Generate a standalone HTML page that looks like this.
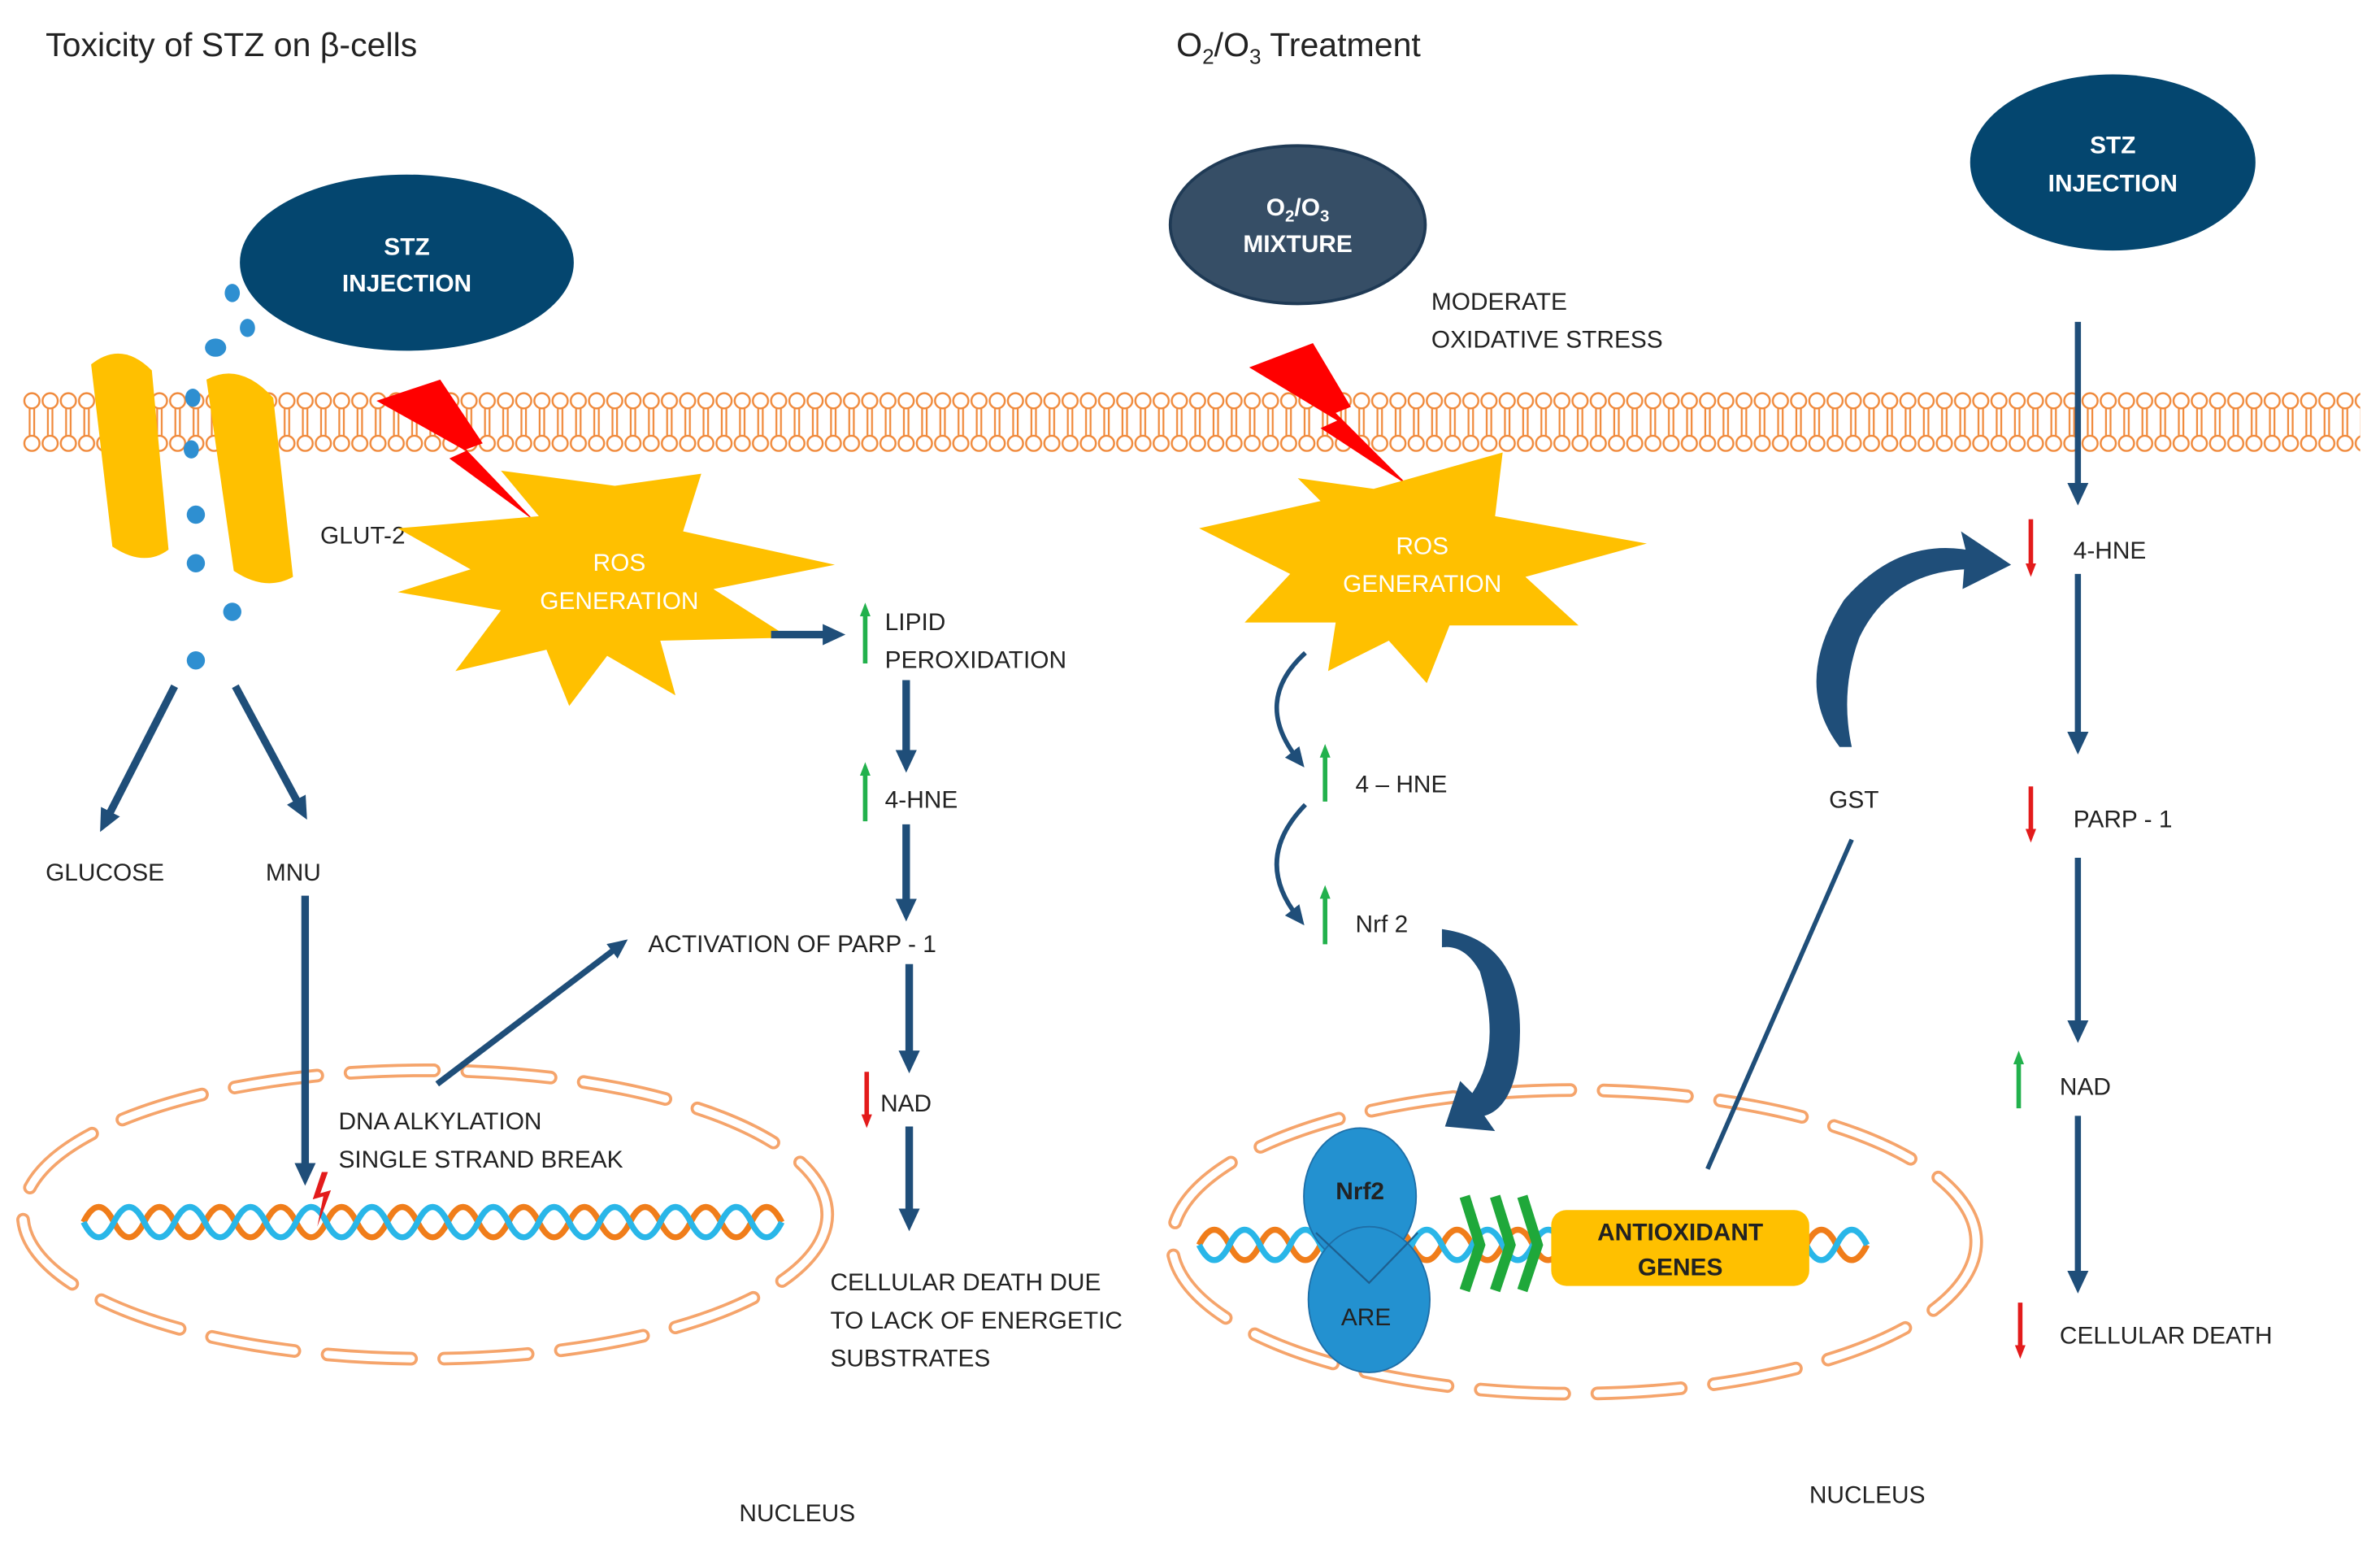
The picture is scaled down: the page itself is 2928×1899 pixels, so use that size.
<!DOCTYPE html>
<html><head><meta charset="utf-8"><style>
html,body{margin:0;padding:0;background:#fff}
svg{display:block}
text{font-family:"Liberation Sans",sans-serif;fill:#222}
</style></head><body>
<svg width="2928" height="1899" viewBox="0 0 1568 1017" xmlns="http://www.w3.org/2000/svg">
<defs>
<pattern id="lip" x="15" y="0" width="12" height="1017" patternUnits="userSpaceOnUse">
<line x1="4.5" y1="269" x2="4.5" y2="288" stroke="#f08a3c" stroke-width="1.2"/>
<line x1="7.5" y1="269" x2="7.5" y2="288" stroke="#f08a3c" stroke-width="1.2"/>
<circle cx="6" cy="264" r="5" fill="#fff" stroke="#f08a3c" stroke-width="1.3"/>
<circle cx="6" cy="292" r="5" fill="#fff" stroke="#f08a3c" stroke-width="1.3"/>
</pattern>
<marker id="ah" markerUnits="userSpaceOnUse" markerWidth="16" markerHeight="16" refX="6" refY="8" orient="auto"><path d="M0,1 L15,8 L0,15z" fill="#1f4e79"/></marker>
<marker id="sm" markerUnits="userSpaceOnUse" markerWidth="14" markerHeight="14" refX="6" refY="7" orient="auto"><path d="M0,1 L13,7 L0,13z" fill="#1f4e79"/></marker>
<marker id="gr" markerUnits="userSpaceOnUse" markerWidth="10" markerHeight="10" refX="4" refY="5" orient="auto"><path d="M0,1.5 L9,5 L0,8.5z" fill="#22b14c"/></marker>
<marker id="rd" markerUnits="userSpaceOnUse" markerWidth="10" markerHeight="10" refX="4" refY="5" orient="auto"><path d="M0,1.5 L9,5 L0,8.5z" fill="#e31b1b"/></marker>
</defs>

<text x="30" y="37" font-size="22">Toxicity  of STZ on β-cells</text>
<text x="775" y="37" font-size="22">O<tspan font-size="14" dy="5">2</tspan><tspan dy="-5">/O</tspan><tspan font-size="14" dy="5">3</tspan><tspan dy="-5"> Treatment</tspan></text>

<rect x="15" y="255" width="1540" height="45" fill="url(#lip)"/>

<g fill="none" stroke-linecap="round">
<ellipse cx="280" cy="800" rx="265" ry="95" stroke="#f5a46b" stroke-width="9" stroke-dasharray="55 22"/>
<ellipse cx="280" cy="800" rx="265" ry="95" stroke="#fff" stroke-width="5" stroke-dasharray="55 22"/>
<ellipse cx="1037" cy="818" rx="265" ry="100" stroke="#f5a46b" stroke-width="9" stroke-dasharray="55 22"/>
<ellipse cx="1037" cy="818" rx="265" ry="100" stroke="#fff" stroke-width="5" stroke-dasharray="55 22"/>
</g>

<g fill="none" stroke-width="4">
<path d="M55,805 q10,-20 20,0 t20,0 t20,0 t20,0 t20,0 t20,0 t20,0 t20,0 t20,0 t20,0 t20,0 t20,0 t20,0 t20,0 t20,0 t20,0 t20,0 t20,0 t20,0 t20,0 t20,0 t20,0 t20,0" stroke="#f07d1a"/>
<path d="M55,805 q10,20 20,0 t20,0 t20,0 t20,0 t20,0 t20,0 t20,0 t20,0 t20,0 t20,0 t20,0 t20,0 t20,0 t20,0 t20,0 t20,0 t20,0 t20,0 t20,0 t20,0 t20,0 t20,0 t20,0" stroke="#29b6e8"/>
<path d="M790,820 q10,-20 20,0 t20,0 t20,0 t20,0 t20,0 t20,0 t20,0 t20,0 t20,0 t20,0 t20,0 t20,0 t20,0 t20,0 t20,0 t20,0 t20,0 t20,0 t20,0 t20,0 t20,0 t20,0" stroke="#f07d1a"/>
<path d="M790,820 q10,20 20,0 t20,0 t20,0 t20,0 t20,0 t20,0 t20,0 t20,0 t20,0 t20,0 t20,0 t20,0 t20,0 t20,0 t20,0 t20,0 t20,0 t20,0 t20,0 t20,0 t20,0 t20,0" stroke="#29b6e8"/>
</g>
<path d="M212,772 l-6,18 7,-2 -4,20 9,-24 -7,2 5,-14z" fill="#e31b1b"/>

<path d="M60,240 Q80,224 100,244 L111,362 Q95,374 74,360 Z" fill="#ffc000"/>
<path d="M136,250 Q158,238 180,262 L193,380 Q175,390 154,376 Z" fill="#ffc000"/>
<g fill="#2e8fd1">
<ellipse cx="153" cy="193" rx="5" ry="6"/><ellipse cx="163" cy="216" rx="5" ry="6"/>
<ellipse cx="142" cy="229" rx="7" ry="6"/><ellipse cx="127" cy="262" rx="5" ry="6"/>
<ellipse cx="126" cy="296" rx="5" ry="6"/><ellipse cx="129" cy="339" rx="6" ry="6"/>
<ellipse cx="129" cy="371" rx="6" ry="6"/><ellipse cx="153" cy="403" rx="6" ry="6"/>
<ellipse cx="129" cy="435" rx="6" ry="6"/>
</g>
<text x="211" y="358" font-size="16">GLUT-2</text>

<ellipse cx="268" cy="173" rx="110" ry="58" fill="#04466f"/>
<text x="268" y="168" font-size="16" font-weight="bold" style="fill:#fff" text-anchor="middle">STZ</text>
<text x="268" y="192" font-size="16" font-weight="bold" style="fill:#fff" text-anchor="middle">INJECTION</text>

<path d="M248,264 L290,250 L318,292 L307,296 L352,343 L296,302 L307,297 Z" fill="#ff0000"/>
<path d="M823,242 L865,226 L890,268 L880,272 L928,320 L870,282 L881,277 Z" fill="#ff0000"/>

<path d="M262,348 L355,340 L330,310 L405,320 L462,312 L450,350 L550,372 L470,388 L520,420 L435,422 L445,458 L400,432 L375,465 L360,428 L300,442 L330,402 L262,390 L310,375 Z" fill="#ffc000"/>
<text x="408" y="376" font-size="16" style="fill:#fff" text-anchor="middle">ROS</text>
<text x="408" y="401" font-size="16" style="fill:#fff" text-anchor="middle">GENERATION</text>
<path d="M790,348 L870,330 L855,315 L905,322 L990,298 L985,340 L1085,358 L1005,380 L1040,412 L955,412 L940,450 L915,422 L875,442 L880,410 L820,410 L850,378 Z" fill="#ffc000"/>
<text x="937" y="365" font-size="16" style="fill:#fff" text-anchor="middle">ROS</text>
<text x="937" y="390" font-size="16" style="fill:#fff" text-anchor="middle">GENERATION</text>

<ellipse cx="855" cy="148" rx="84" ry="52" fill="#364e66" stroke="#1f3a55" stroke-width="2"/>
<text x="855" y="142" font-size="16" font-weight="bold" style="fill:#fff" text-anchor="middle">O<tspan font-size="11" dy="4">2</tspan><tspan dy="-4">/O</tspan><tspan font-size="11" dy="4">3</tspan></text>
<text x="855" y="166" font-size="16" font-weight="bold" style="fill:#fff" text-anchor="middle">MIXTURE</text>
<text x="943" y="204" font-size="16">MODERATE</text>
<text x="943" y="229" font-size="16">OXIDATIVE STRESS</text>

<ellipse cx="1392" cy="107" rx="94" ry="58" fill="#04466f"/>
<text x="1392" y="101" font-size="16" font-weight="bold" style="fill:#fff" text-anchor="middle">STZ</text>
<text x="1392" y="126" font-size="16" font-weight="bold" style="fill:#fff" text-anchor="middle">INJECTION</text>

<g stroke="#1f4e79" stroke-width="5" fill="none" marker-end="url(#ah)">
<line x1="115" y1="452" x2="70" y2="540"/>
<line x1="155" y1="452" x2="198" y2="532"/>
<line x1="201" y1="590" x2="201" y2="772"/>
<line x1="508" y1="418" x2="548" y2="418"/>
<line x1="597" y1="448" x2="597" y2="500"/>
<line x1="597" y1="543" x2="597" y2="598"/>
<line x1="599" y1="635" x2="599" y2="698"/>
<line x1="599" y1="742" x2="599" y2="802"/>
</g>
<line x1="288" y1="714" x2="408" y2="623" stroke="#1f4e79" stroke-width="4" marker-end="url(#sm)"/>

<g font-size="16">
<text x="30" y="580">GLUCOSE</text>
<text x="175" y="580">MNU</text>
<text x="583" y="415">LIPID</text>
<text x="583" y="440">PEROXIDATION</text>
<text x="583" y="532">4-HNE</text>
<text x="427" y="627">ACTIVATION OF PARP - 1</text>
<text x="580" y="732">NAD</text>
<text x="223" y="744">DNA ALKYLATION</text>
<text x="223" y="769">SINGLE STRAND BREAK</text>
<text x="547" y="850">CELLULAR DEATH DUE</text>
<text x="547" y="875">TO LACK OF ENERGETIC</text>
<text x="547" y="900">SUBSTRATES</text>
<text x="487" y="1002">NUCLEUS</text>
<text x="1192" y="990">NUCLEUS</text>
<text x="893" y="522">4 – HNE</text>
<text x="893" y="614">Nrf 2</text>
<text x="1205" y="532">GST</text>
<text x="1366" y="368">4-HNE</text>
<text x="1366" y="545">PARP - 1</text>
<text x="1357" y="721">NAD</text>
<text x="1357" y="885">CELLULAR DEATH</text>
</g>

<g stroke-width="3">
<line x1="570" y1="437" x2="570" y2="402" stroke="#22b14c" marker-end="url(#gr)"/>
<line x1="570" y1="541" x2="570" y2="507" stroke="#22b14c" marker-end="url(#gr)"/>
<line x1="571" y1="706" x2="571" y2="738" stroke="#e31b1b" marker-end="url(#rd)"/>
<line x1="873" y1="528" x2="873" y2="495" stroke="#22b14c" marker-end="url(#gr)"/>
<line x1="873" y1="622" x2="873" y2="588" stroke="#22b14c" marker-end="url(#gr)"/>
<line x1="1338" y1="342" x2="1338" y2="375" stroke="#e31b1b" marker-end="url(#rd)"/>
<line x1="1338" y1="518" x2="1338" y2="550" stroke="#e31b1b" marker-end="url(#rd)"/>
<line x1="1330" y1="730" x2="1330" y2="697" stroke="#22b14c" marker-end="url(#gr)"/>
<line x1="1331" y1="858" x2="1331" y2="890" stroke="#e31b1b" marker-end="url(#rd)"/>
</g>

<g stroke="#1f4e79" stroke-width="4" fill="none" marker-end="url(#ah)">
<line x1="1369" y1="212" x2="1369" y2="324"/>
<line x1="1369" y1="378" x2="1369" y2="488"/>
<line x1="1369" y1="565" x2="1369" y2="678"/>
<line x1="1369" y1="735" x2="1369" y2="843"/>
</g>
<g stroke="#1f4e79" stroke-width="3" fill="none" marker-end="url(#sm)">
<path d="M860,430 Q825,462 855,500"/>
<path d="M860,530 Q825,566 855,604"/>
</g>
<line x1="1125" y1="770" x2="1220" y2="553" stroke="#1f4e79" stroke-width="3"/>
<path d="M950,612 Q1010,620 1000,700 Q995,730 978,735 L985,745 L952,742 L962,712 L970,720 Q990,690 975,640 Q965,622 950,624 Z" fill="#1f4e79"/>
<path d="M1212,492 Q1180,450 1215,395 Q1250,355 1295,362 L1292,350 L1325,372 L1293,388 L1294,375 Q1245,378 1225,420 Q1212,455 1220,492 Z" fill="#1f4e79"/>

<ellipse cx="896" cy="788" rx="37" ry="45" fill="#2391d0" stroke="#1e6fa8" stroke-width="1"/>
<ellipse cx="902" cy="856" rx="40" ry="48" fill="#2391d0" stroke="#1e6fa8" stroke-width="1"/>
<path d="M867,812 L902,845 L934,812" fill="none" stroke="#1e5f8f" stroke-width="1.2"/>
<text x="896" y="790" font-size="16" font-weight="bold" text-anchor="middle">Nrf2</text>
<text x="900" y="873" font-size="16" text-anchor="middle">ARE</text>
<g fill="none" stroke="#1fa83a" stroke-width="7">
<path d="M965,788 L975,820 L965,850"/>
<path d="M985,788 L995,820 L985,850"/>
<path d="M1003,788 L1013,820 L1003,850"/>
</g>
<rect x="1022" y="797" width="170" height="50" rx="10" fill="#ffc000"/>
<text x="1107" y="817" font-size="16" font-weight="bold" text-anchor="middle">ANTIOXIDANT</text>
<text x="1107" y="840" font-size="16" font-weight="bold" text-anchor="middle">GENES</text>
</svg>
</body></html>
